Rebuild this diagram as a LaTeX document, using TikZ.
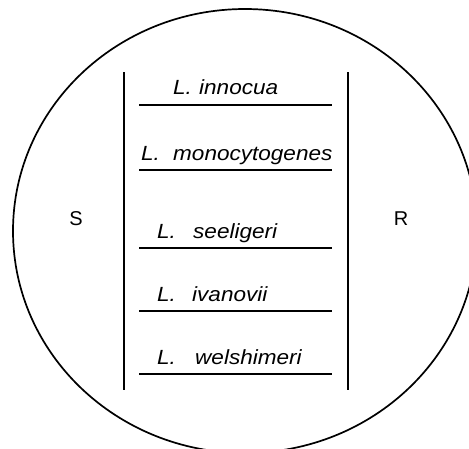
\documentclass[tikz,border=0pt]{standalone}
\usepackage{fontspec}
\setmainfont{Liberation Sans}
\newfontfamily\labfont[FakeStretch=1.1]{Liberation Sans}
\begin{document}
\begin{tikzpicture}[x=1pt,y=-1pt,
  lab/.style={anchor=base west,inner sep=0pt,font=\labfont\itshape\fontsize{20.5}{22}\selectfont},
  side/.style={inner sep=0pt,font=\fontsize{20}{22}\selectfont},
  rule/.style={line width=1.2pt},
  rim/.style={line width=1.7pt}]
\useasboundingbox (0,0) rectangle (469,448);
\clip (0,0) rectangle (469,448);
\draw[rim] (245,231) ellipse [x radius=232, y radius=222];
% vertical bars
\coordinate (vlt) at (124,72); \coordinate (vlb) at (124,390);
\coordinate (vrt) at (348,72); \coordinate (vrb) at (348,390);
\draw[rule] (vlt) -- (vlb);
\draw[rule] (vrt) -- (vrb);
% side labels
\node[side] (S) at (76,219) {S};
\node[side] (R) at (401,219) {R};
% species
\node[lab] (l1) at (173,94) {L.};
\node[lab] (s1) at (199,94) {innocua};
\node[lab] (l2) at (141,160) {L.};
\node[lab] (s2) at (173,160) {monocytogenes};
\node[lab] (l3) at (157,238) {L.};
\node[lab] (s3) at (193,238) {seeligeri};
\node[lab] (l4) at (157,301) {L.};
\node[lab] (s4) at (192,301) {ivanovii};
\node[lab] (l5) at (157,364) {L.};
\node[lab] (s5) at (195,364) {welshimeri};
% underlines
\foreach \i/\y in {1/105,2/170,3/248,4/311,5/374}{
  \coordinate (a\i) at (139,\y); \coordinate (b\i) at (332,\y);
  \draw[rule] (a\i) -- (b\i);
}
\end{tikzpicture}
\end{document}
